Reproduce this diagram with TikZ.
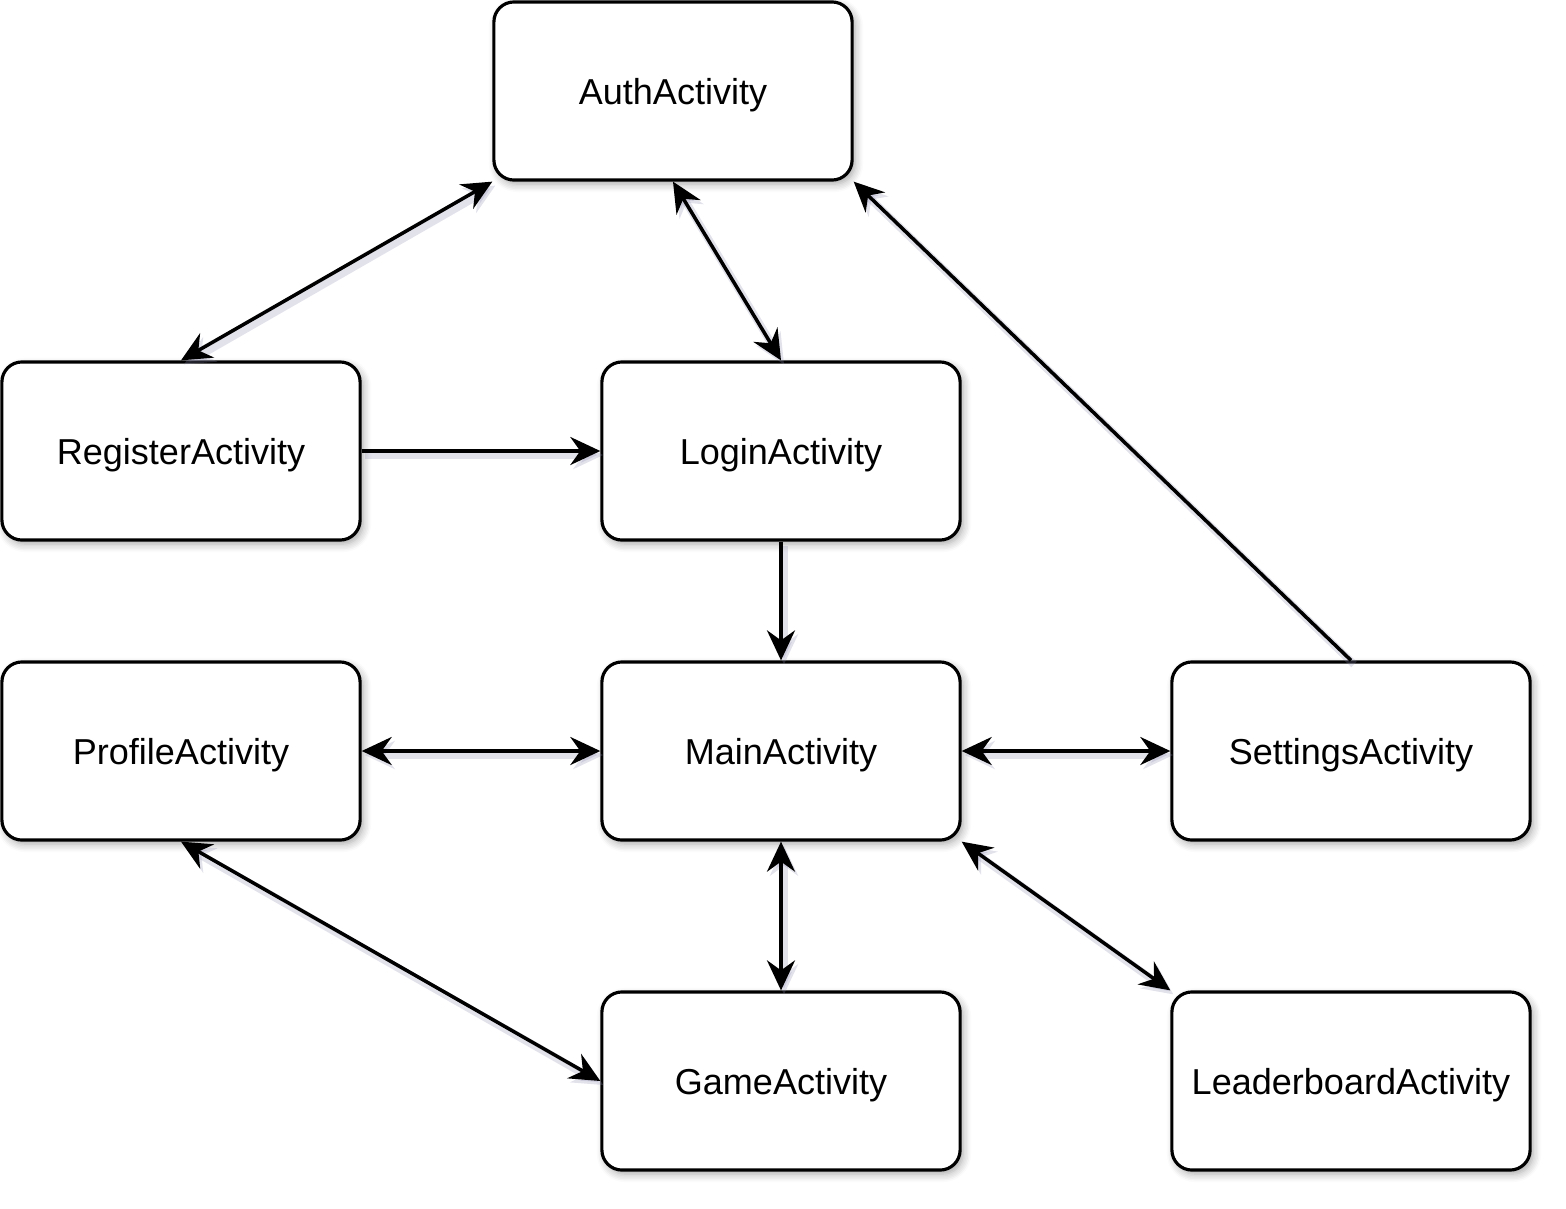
\documentclass[tikz,border=0pt]{standalone}
\usepackage{fontspec}
\setmainfont{Liberation Sans}
\usetikzlibrary{positioning,arrows.meta,shadows.blur}
\definecolor{shade}{HTML}{8A8AB0}

\begin{document}
\begin{tikzpicture}[x=0.01cm,y=-0.01cm,font=\fontsize{10.25}{12}\selectfont,
  >={Stealth[length=0.3cm,width=0.28cm,inset=0.1cm]},
  act/.style={draw,line width=0.9pt,rounded corners=0.2cm,minimum width=3.58cm,minimum height=1.78cm,text depth=0pt,
    fill=white,blur shadow={shadow xshift=0.03cm,shadow yshift=-0.04cm,shadow blur radius=0.08cm,shadow opacity=35,shadow blur steps=6}},
  lnk/.style={line width=1pt,preaction={draw=shade,opacity=0.25,line width=2.2pt,transform canvas={shift={(0.03cm,-0.04cm)}}}}]
  \useasboundingbox (0,0) rectangle (1566,1209);
  \foreach \n/\x/\y/\t in {auth/673/91/AuthActivity, reg/181/451/RegisterActivity, login/781/451/LoginActivity,
    prof/181/751/ProfileActivity, main/781/751/MainActivity, set/1351/751/SettingsActivity,
    game/781/1081/GameActivity, lead/1351/1081/LeaderboardActivity}
    {\node[act] (\n) at (\x,\y) {\t};}
  \draw[lnk,<->] (auth.south west) -- (reg.north);
  \draw[lnk,<->] (auth.south) -- (login.north);
  \draw[lnk,->] (set.north) -- (auth.south east);
  \draw[lnk,->] (reg) -- (login);
  \draw[lnk,->] (login) -- (main);
  \draw[lnk,<->] (prof) -- (main);
  \draw[lnk,<->] (main) -- (set);
  \draw[lnk,<->] (main) -- (game);
  \draw[lnk,<->] (prof.south) -- (game.west);
  \draw[lnk,<->] (main.south east) -- (lead.north west);
\end{tikzpicture}
\end{document}
